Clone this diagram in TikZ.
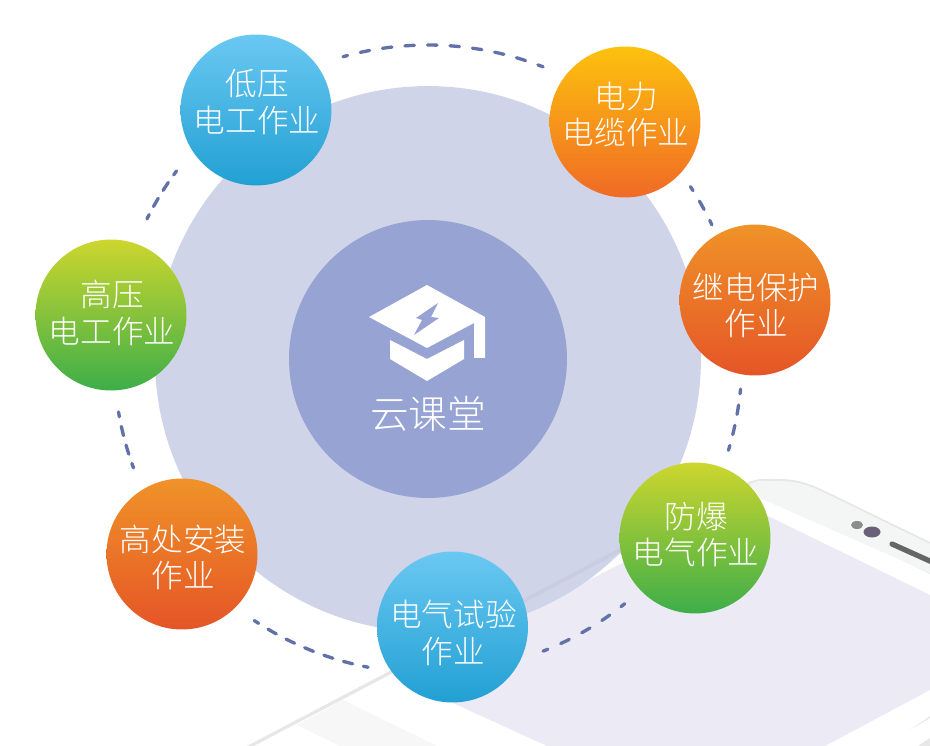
\documentclass[tikz,border=0pt]{standalone}
\usepackage{fontspec}
\setmainfont{Noto Sans CJK SC}[UprightFont=* Light]
\definecolor{ringblue}{HTML}{6272A8}
\definecolor{hubblue}{HTML}{97A4D3}
\definecolor{discblue}{HTML}{D0D4E8}
\definecolor{bandblue}{HTML}{C9CDE2}
\definecolor{screenlav}{HTML}{ECEBF5}
\definecolor{bodygrey}{HTML}{F4F5F5}
\definecolor{edgegrey}{HTML}{E7E7E7}
\definecolor{lensgrey}{HTML}{6A6078}
\definecolor{skytop}{HTML}{6AC8F2}
\definecolor{skybot}{HTML}{22A0D3}
\definecolor{suntop}{HTML}{FDC20E}
\definecolor{sunbot}{HTML}{F06A26}
\definecolor{firetop}{HTML}{EF9328}
\definecolor{firebot}{HTML}{E55527}
\definecolor{leaftop}{HTML}{CDD62E}
\definecolor{leafbot}{HTML}{3DAE49}
\tikzset{
  jobball/.style={circle,minimum size=3.02cm,inner sep=0pt},
  jobtext/.style={text=white,align=center,inner sep=0pt,
    font=\fontsize{18}{20.9}\selectfont},
  jobring/.style={ringblue,line width=1.9pt,line cap=round}
}
\begin{document}
\begin{tikzpicture}[x=0.02cm,y=-0.02cm]
  \useasboundingbox (0,0) rectangle (930,746);
  % phone behind the disc
  \fill[edgegrey] (247,746) -- (747,483) to[out=27,in=180] (777,479)
    to[out=0,in=155] (823,490) -- (930,542) -- (930,718) -- (882,746) -- cycle;
  \fill[white] (254,746) -- (750,486) -- (930,574) -- (930,716) -- (886,746) -- cycle;
  \fill[bodygrey] (750,484) to[out=27,in=180] (777,481) to[out=0,in=155] (823,492)
    -- (930,544) -- (930,573) -- (760,498) -- cycle;
  \fill[screenlav] (396,677) -- (720,514) to[out=27,in=155] (772,518)
    -- (930,595) -- (930,690) -- (825,746) -- (547,746) -- cycle;
  \fill[black!3] (343,700) -- (437,746) -- (340,746) -- (297,725) -- cycle;
  \fill[edgegrey] (930,738) -- (918,746) -- (930,746) -- cycle;
  % camera and speaker
  \fill[black!45] (857,525) ellipse (6 and 4);
  \fill[lensgrey] (872,532) ellipse (8.5 and 5.5);
  \draw[black!60,line width=3pt,line cap=round] (892,544) -- (932,562);
  % discs
  \node[circle,fill=discblue,minimum size=10.92cm,inner sep=0pt] (disc) at (428,359) {};
  \begin{scope}
    \clip (428,359) circle (273);
    \draw[bandblue,line width=2.2pt] (624,548) -- (520,603);
  \end{scope}
  \node[circle,fill=hubblue,minimum size=5.56cm,inner sep=0pt] (hub) at (428,359) {};
  % mortarboard
  \fill[white] (369,317) -- (427,285) -- (485,317) -- (485,358) -- (474,358)
    -- (474,323) -- (427,348) -- cycle;
  \fill[white] (390,340) -- (427,359) -- (464,340) -- (464,359) -- (427,381)
    -- (390,359) -- cycle;
  \fill[hubblue] (438,303) -- (416,318) -- (422,320) -- (414,335) -- (439,318)
    -- (431,317) -- cycle;
  \node[text=white,inner sep=0pt,font=\fontsize{22}{26}\selectfont] (cloud) at (428,414) {云课堂};
  % dashes between the balls, \n whole periods on each arc
  \foreach \a/\b/\n in {-105.7/-68.5/9, -33.3/-25.3/2, 5.5/16.9/3, 51.2/68.5/4, 101/123.6/6, 159.7/170.3/3, 206.5/216.8/3} {
    \pgfmathsetmacro{\gap}{3.107*(\b-\a)/\n-5.4}
    \draw[jobring,dash pattern=on 5.4pt off \gap pt,dash phase=2.7pt] (hub.center) ++(\a:314) arc (\a:\b:314);
  }
  % the seven balls
  \foreach \x/\y/\dy/\nm/\ctop/\cbot/\ltext in {
    256/110/-8/low/skytop/skybot/{低压\\电工作业},
    625/122/-7.5/cable/suntop/sunbot/{电力\\电缆作业},
    755/300/5.5/relay/firetop/firebot/{继电保护\\作业},
    695/538/-3.5/blast/leaftop/leafbot/{防爆\\电气作业},
    452.5/627/6/test/skytop/skybot/{电气试验\\作业},
    182/554/3.5/work/firetop/firebot/{高处安装\\作业},
    111/315/-2/high/leaftop/leafbot/{高压\\电工作业}}
  {
    \node[jobball,top color=\ctop,bottom color=\cbot] (\nm) at (\x,\y) {};
    \node[jobtext] (\nm text) at (\x+1,\y+\dy) {\ltext};
  }
\end{tikzpicture}
\end{document}
